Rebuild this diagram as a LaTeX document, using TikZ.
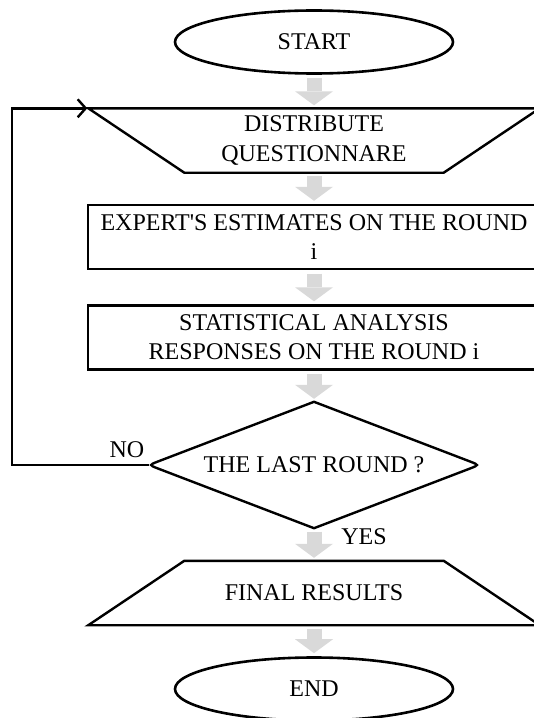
\documentclass[tikz,border=0pt]{standalone}
\usepackage{fontspec}
\setmainfont{Liberation Serif}
\usetikzlibrary{shapes.geometric,arrows.meta,calc}

\definecolor{flowgray}{HTML}{D9D9D9}

\tikzset{
  every node/.style={font=\fontsize{24bp}{29bp}\selectfont},
  terminal/.style={ellipse, draw, line width=2.6bp, minimum width=278bp, minimum height=63bp, inner sep=0pt},
  io/.style={rectangle, minimum width=259bp, minimum height=64bp, inner sep=0pt, align=center},
  process/.style={rectangle, draw, line width=2.4bp, minimum width=452bp, minimum height=64bp, inner sep=0pt, align=center},
  decision/.style={diamond, aspect=2.6, minimum width=330bp, minimum height=126bp, inner sep=0pt},
  outline/.style={draw, line width=2.4bp, line join=miter},
  flow/.style={draw=flowgray, line width=15bp, -{Triangle[width=38bp,length=14bp,line width=0pt]}, shorten <=3.5bp, shorten >=3bp},
  loopline/.style={draw, line width=2.4bp, -{Straight Barb[length=8bp,width=18bp,line width=2.4bp]}, shorten >=1bp},
}

\begin{document}
\begin{tikzpicture}[x=1bp,y=-1bp]
    \useasboundingbox (0,0) rectangle (534,718);
    \clip (0,0) rectangle (534,718);

    \node[terminal] (start) at (314,42) {START};
    \node[io] (distr) at (314,140.5) {DISTRIBUTE\\QUESTIONNARE};
    \node[process] (expert) at (314,237) {EXPERT\textquotesingle S ESTIMATES ON THE ROUND\\i};
    \node[process] (stat) at (314,337.5) {STATISTICAL ANALYSIS\\RESPONSES ON THE ROUND i};
    \node[decision] (dec) at (314,465) {THE LAST ROUND ?};
    \node[io] (final) at (314,593) {FINAL RESULTS};
    \node[terminal] (end) at (314,689) {END};

    % labels on the two exits of the decision
    \node (no) at (127,450) {NO};
    \node (yes) at (364,537) {YES};

    % the two trapezia are drawn round their text nodes
    \draw[outline] ([xshift=-96bp]distr.north west) -- ([xshift=96bp]distr.north east)
        -- (distr.south east) -- (distr.south west) -- cycle;
    \draw[outline] (final.north west) -- (final.north east)
        -- ([xshift=96bp]final.south east) -- ([xshift=-96bp]final.south west) -- cycle;
    \coordinate (distrtop) at ([xshift=-96bp]distr.north west);

    % diamond: sharp top and bottom, rounded side tips
    \draw[outline] (dec.north) -- ($(dec.east)!10bp!(dec.north)$)
        .. controls (dec.east) .. ($(dec.east)!10bp!(dec.south)$)
        -- (dec.south) -- ($(dec.west)!10bp!(dec.south)$)
        .. controls (dec.west) .. ($(dec.west)!10bp!(dec.north)$) -- cycle;

    % grey block arrows
    \draw[flow] (start) -- (distr);
    \draw[flow] (distr) -- (expert);
    \draw[flow] (expert) -- (stat);
    \draw[flow] (stat) -- (dec);
    \draw[flow] (dec) -- (final);
    \draw[flow] (final) -- (end);

    % back to the next round
    \draw[loopline] (dec.west) -- ++(-137,0) |- (distrtop);

\end{tikzpicture}
\end{document}
